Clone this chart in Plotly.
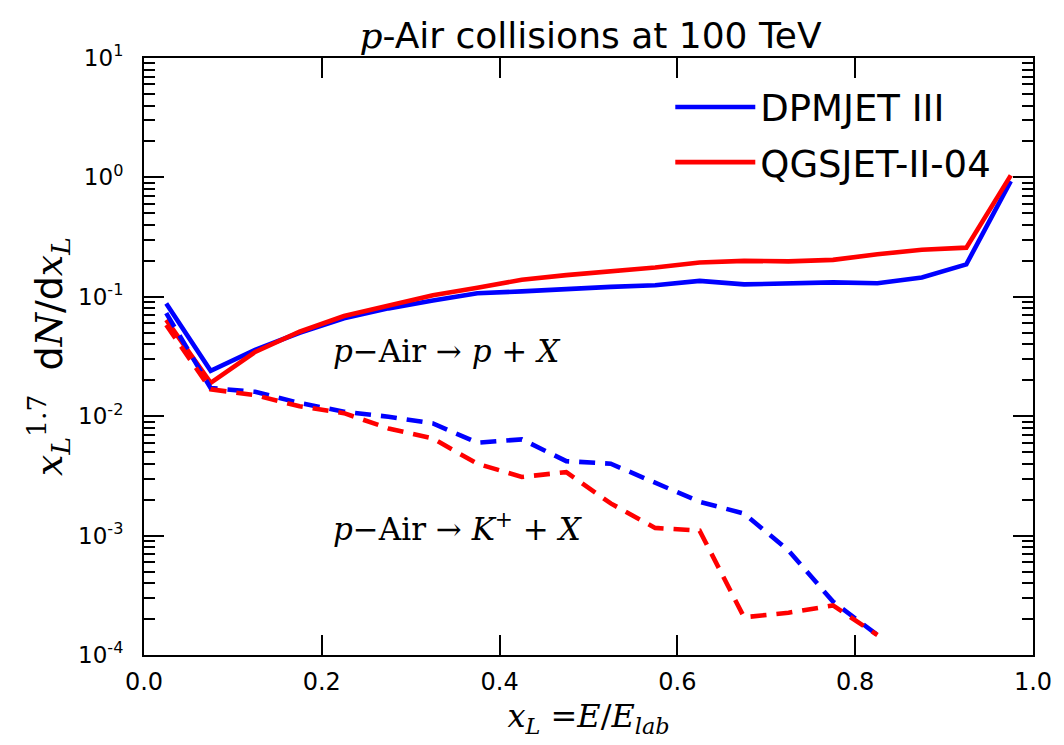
import plotly.graph_objects as go

# Bin centres of x_L = E/E_lab
x_bins = [0.025, 0.075, 0.125, 0.175, 0.225, 0.275, 0.325, 0.375, 0.425, 0.475,
          0.525, 0.575, 0.625, 0.675, 0.725, 0.775, 0.825, 0.875, 0.925, 0.975]

# x_L^1.7 dN/dx_L for p-Air -> p + X
dpmjet_p = [0.088, 0.024, 0.036, 0.050, 0.066, 0.080, 0.093, 0.107, 0.111, 0.117,
            0.121, 0.125, 0.136, 0.127, 0.129, 0.132, 0.130, 0.145, 0.187, 0.93]
qgsjet_p = [0.064, 0.019, 0.0345, 0.051, 0.069, 0.085, 0.103, 0.119, 0.139, 0.152,
            0.162, 0.176, 0.194, 0.200, 0.198, 0.204, 0.227, 0.248, 0.258, 1.04]

# x_L^1.7 dN/dx_L for p-Air -> K+ + X (up to x_L = 0.825)
x_kaon = x_bins[:17]
dpmjet_k = [0.073, 0.0172, 0.0160, 0.0129, 0.0109, 0.0099, 0.0087, 0.0060, 0.0064,
            0.0042, 0.0040, 0.00274, 0.00192, 0.00153, 0.00075, 0.00028, 0.000147]
qgsjet_k = [0.058, 0.0168, 0.0150, 0.0121, 0.0106, 0.0079, 0.0065, 0.0040, 0.0031,
            0.0034, 0.00186, 0.00116, 0.00110, 0.000207, 0.000226, 0.00026, 0.000147]

y_tickvals = [1e-4, 1e-3, 1e-2, 1e-1, 1e0, 1e1]
y_ticktext = ["10<sup>-4</sup>", "10<sup>-3</sup>", "10<sup>-2</sup>",
              "10<sup>-1</sup>", "10<sup>0</sup>", "10<sup>1</sup>"]
x_tickvals = [0.0, 0.2, 0.4, 0.6, 0.8, 1.0]

BLUE = "#0000ff"
RED = "#ff0000"
SANS = "DejaVu Sans"
SERIF = "DejaVu Serif"
LW = 4.6
DASH = "16px,10px"
NB = "\u00a0"

fig = go.Figure()
fig.add_trace(go.Scatter(x=x_bins, y=dpmjet_p, mode="lines", name="DPMJET III",
                         legendgroup="dpm", line=dict(color=BLUE, width=LW)))
fig.add_trace(go.Scatter(x=x_bins, y=qgsjet_p, mode="lines", name="QGSJET-II-04",
                         legendgroup="qgs", line=dict(color=RED, width=LW)))
fig.add_trace(go.Scatter(x=x_kaon, y=dpmjet_k, mode="lines", showlegend=False,
                         legendgroup="dpm", line=dict(color=BLUE, width=LW, dash=DASH)))
fig.add_trace(go.Scatter(x=x_kaon, y=qgsjet_k, mode="lines", showlegend=False,
                         legendgroup="qgs", line=dict(color=RED, width=LW, dash=DASH)))

fig.add_annotation(x=0.21, y=-1.45, xref="x", yref="y", xanchor="left", yanchor="middle",
                   showarrow=False,
                   text="<i>p</i>\u2212Air \u2192 <i>p</i> + <i>X</i>",
                   font=dict(family=SERIF, size=31, color="black"))
fig.add_annotation(x=0.21, y=-2.93, xref="x", yref="y", xanchor="left", yanchor="middle",
                   showarrow=False,
                   text="<i>p</i>\u2212Air \u2192 <i>K</i><sup>+</sup> + <i>X</i>",
                   font=dict(family=SERIF, size=31, color="black"))

y_title = ("<span style='font-family:DejaVu Serif'><i>x</i><sub><i>L</i></sub>"
           "<sup>1.7</sup></span>" + NB + NB + "d<span style='font-family:DejaVu Serif'>"
           "<i>N</i></span>/d<span style='font-family:DejaVu Serif'><i>x</i>"
           "<sub><i>L</i></sub></span>")

fig.update_layout(
    width=1064, height=745,
    margin=dict(l=144, r=25, t=58, b=90),
    paper_bgcolor="white", plot_bgcolor="white",
    title=dict(text="<span style='font-family:DejaVu Serif'><i>p</i></span>-Air collisions at 100 TeV",
               x=0.555, xanchor="center", y=0.953, yanchor="middle",
               font=dict(family=SANS, size=36, color="black")),
    legend=dict(x=0.592, y=0.969, xanchor="left", yanchor="top",
                bgcolor="rgba(0,0,0,0)", borderwidth=0,
                font=dict(family=SANS, size=37, color="black"),
                itemwidth=80, traceorder="grouped", tracegroupgap=4),
    showlegend=True,
)

fig.update_xaxes(
    range=[0, 1], tickvals=x_tickvals, tickformat=".1f",
    showgrid=False, zeroline=False,
    showline=True, linecolor="black", linewidth=2, mirror="ticks",
    ticks="inside", ticklen=20, tickwidth=2, tickcolor="black",
    tickfont=dict(family=SANS, size=24, color="black"), ticklabelstandoff=4,
    title=dict(text="<i>x<sub>L</sub></i> =<i>E</i>/<i>E<sub>lab</sub></i>",
               font=dict(family=SERIF, size=32, color="black"), standoff=10),
)
fig.update_yaxes(
    type="log", range=[-4, 1], tickvals=y_tickvals, ticktext=y_ticktext,
    showgrid=False, zeroline=False,
    showline=True, linecolor="black", linewidth=2, mirror="ticks",
    ticks="inside", ticklen=20, tickwidth=2, tickcolor="black",
    tickfont=dict(family=SANS, size=23, color="black"), ticklabelstandoff=14,
    minor=dict(ticks="inside", ticklen=11, tickwidth=1.6, tickcolor="black",
               dtick="D1", showgrid=False),
    title=dict(text=y_title, font=dict(family=SANS, size=38, color="black"), standoff=4),
)

fig.write_html("out.html")
